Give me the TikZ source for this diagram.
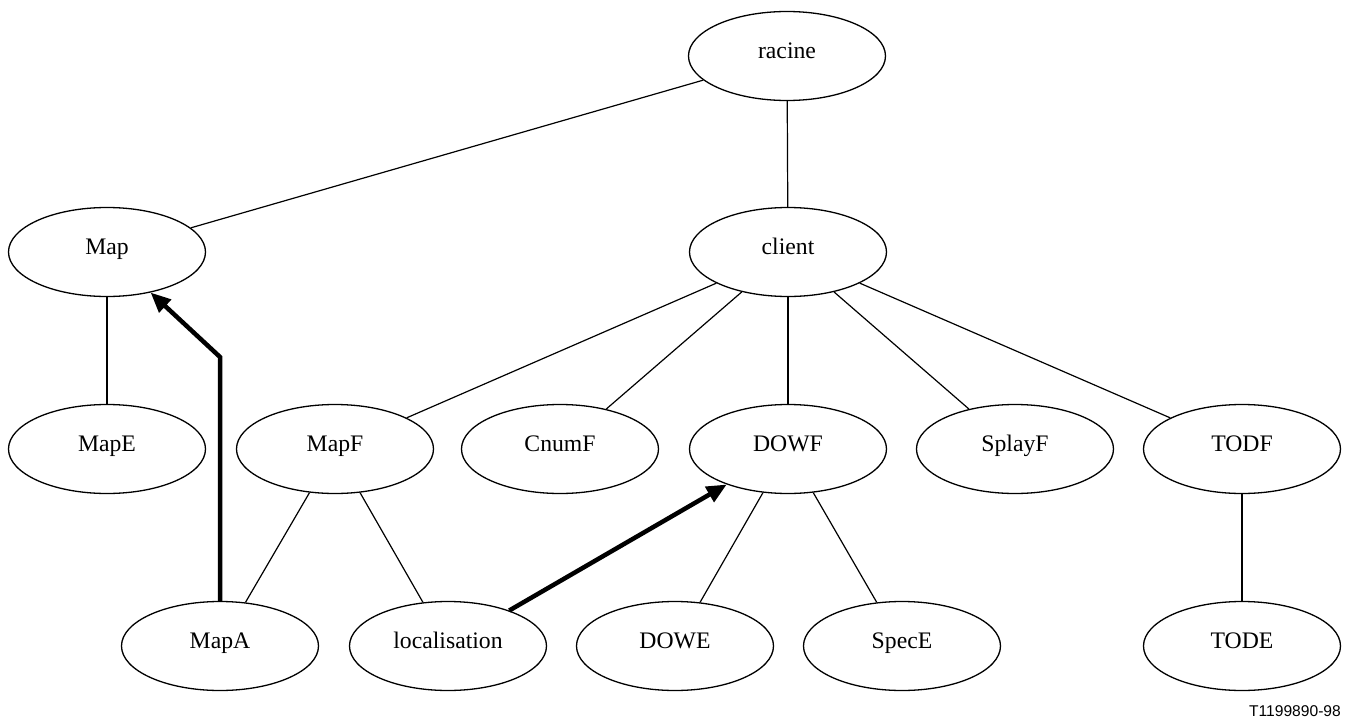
\documentclass[tikz,border=0pt]{standalone}
\usepackage{fontspec}
\setmainfont{Liberation Serif}
\newfontfamily\labelfont{Liberation Sans}
\usetikzlibrary{shapes.geometric,arrows.meta}
\begin{document}
\begin{tikzpicture}[x=1pt,y=-1pt,
  elnode/.style={ellipse,draw,line width=1.3pt,minimum width=197pt,minimum height=89pt,
    inner sep=0pt,text height=6pt,text depth=2pt,font=\fontsize{23.7}{28}\selectfont},
  edge/.style={line width=1.2pt},
  ref/.style={line width=4.5pt,-{Triangle[length=20pt,width=17pt]}}]
\useasboundingbox (0,0) rectangle (1353,720);
% tree nodes
\node[elnode] (racine) at (787,56) {racine};
\node[elnode] (Map) at (107,252) {Map};
\node[elnode] (client) at (788,252) {client};
\node[elnode] (MapE) at (107,449) {MapE};
\node[elnode] (MapF) at (335,449) {MapF};
\node[elnode] (CnumF) at (560,449) {CnumF};
\node[elnode] (DOWF) at (788,449) {DOWF};
\node[elnode] (SplayF) at (1015,449) {SplayF};
\node[elnode] (TODF) at (1242,449) {TODF};
\node[elnode] (MapA) at (220,646) {MapA};
\node[elnode] (localisation) at (448,646) {localisation};
\node[elnode] (DOWE) at (675,646) {DOWE};
\node[elnode] (SpecE) at (902,646) {SpecE};
\node[elnode] (TODE) at (1242,646) {TODE};
% hierarchy edges
\draw[edge] (racine) -- (Map);
\draw[edge] (racine) -- (client);
\draw[edge] (Map) -- (MapE);
\draw[edge] (client) -- (MapF);
\draw[edge] (client) -- (CnumF);
\draw[edge] (client) -- (DOWF);
\draw[edge] (client) -- (SplayF);
\draw[edge] (client) -- (TODF);
\draw[edge] (MapF) -- (MapA);
\draw[edge] (MapF) -- (localisation);
\draw[edge] (DOWF) -- (DOWE);
\draw[edge] (DOWF) -- (SpecE);
\draw[edge] (TODF) -- (TODE);
% references
\coordinate (bend) at (220,357);
\draw[ref] (MapA.north) -- (bend) -- (Map);
\draw[ref] (localisation) -- (DOWF);
% figure number
\node[font=\labelfont\fontsize{15.6}{18}\selectfont,anchor=east,inner sep=0pt] (fignum) at (1341,711) {T1199890-98};
\end{tikzpicture}
\end{document}
